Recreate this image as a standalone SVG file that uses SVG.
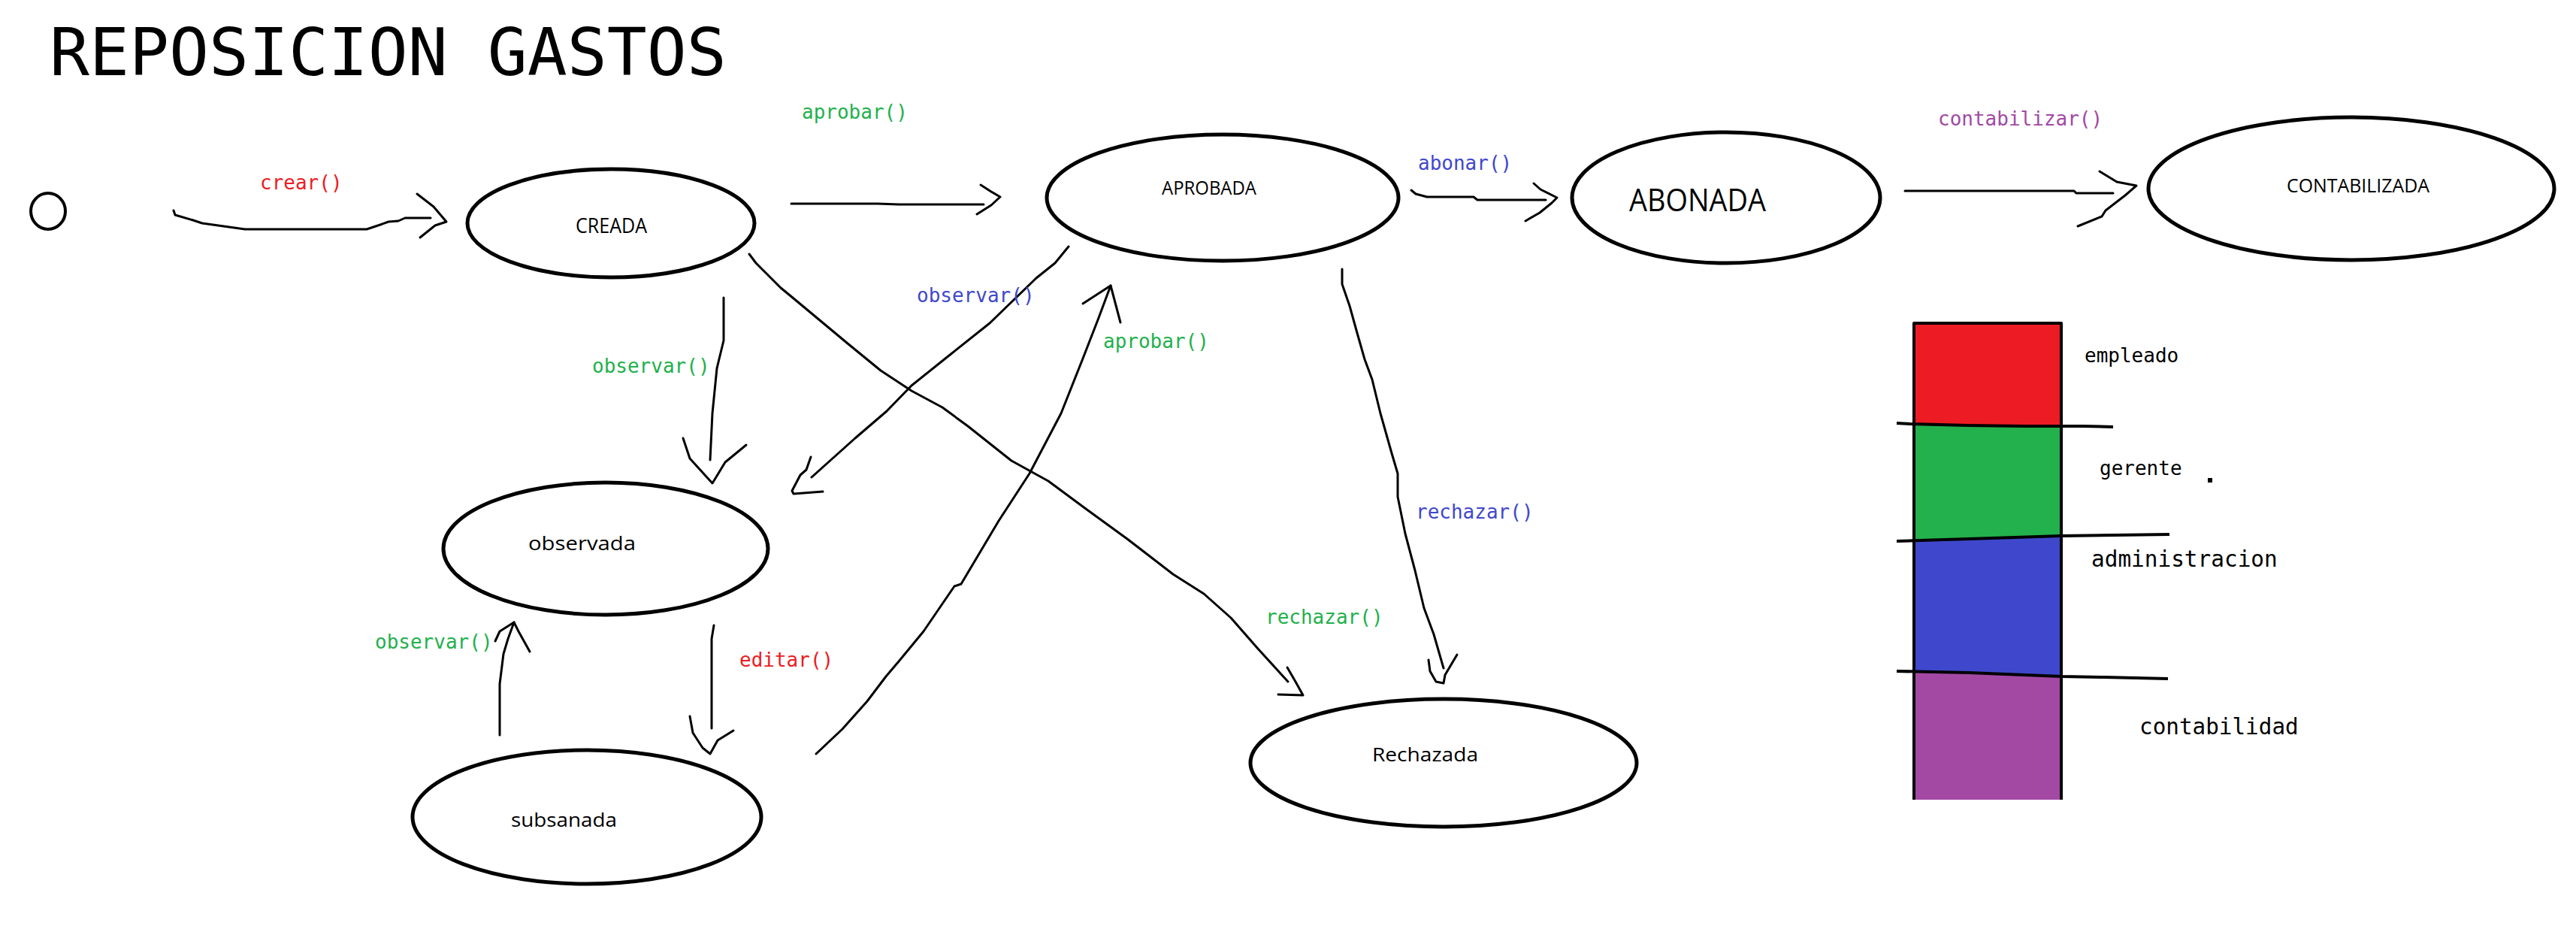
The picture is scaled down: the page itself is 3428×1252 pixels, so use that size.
<svg xmlns="http://www.w3.org/2000/svg" width="3428" height="1252" viewBox="0 0 3428 1252">
<style>
.node{fill:#fff;stroke:#000;stroke-width:5}
.nl{font-family:"Open Sans","Noto Sans","DejaVu Sans",sans-serif;fill:#000}
.edge{fill:none;stroke:#000;stroke-width:3;stroke-linejoin:round;stroke-linecap:round}
.lbl{font-family:"DejaVu Sans Mono","Liberation Mono",monospace;font-size:26px}
.red{fill:#ed1c24}.green{fill:#22b14c}.blue{fill:#3f48cc}.purple{fill:#a349a4}
.leg{font-family:"DejaVu Sans Mono","Liberation Mono",monospace;fill:#000}
.div{fill:none;stroke:#000;stroke-width:4;stroke-linejoin:round}
</style>
<rect width="3428" height="1252" fill="#fff"/>
<text x="66" y="100" font-family="DejaVu Sans Mono, Liberation Mono, monospace" font-size="88" fill="#000">REPOSICION GASTOS</text>

<g id="connectors">
  <g id="e-crear">
    <polyline class="edge" points="231,280 233,286 257,293 269,297 326,305 488,305 506,299 517,295 530,294 539,290 573,290"/>
    <polyline class="edge" points="555,258 577,275 594,295 579,300 559,316"/>
    <text class="lbl red" x="346" y="252">crear()</text>
  </g>
  <g id="e-aprobar1">
    <polyline class="edge" points="1053,271 1168,271 1196,272 1309,272"/>
    <polyline class="edge" points="1305,246 1319,255 1331,262 1319,273 1300,285"/>
    <text class="lbl green" x="1067" y="158">aprobar()</text>
  </g>
  <g id="e-abonar">
    <polyline class="edge" points="1878,253 1884,258 1899,262 1961,262 1966,266 2057,266"/>
    <polyline class="edge" points="2041,244 2050,252 2072,263 2065,270 2049,283 2030,294"/>
    <text class="lbl blue" x="1887" y="226">abonar()</text>
  </g>
  <g id="e-contabilizar">
    <polyline class="edge" points="2535,254 2760,254 2763,257 2812,257"/>
    <polyline class="edge" points="2794,228 2817,242 2843,247 2828,260 2802,280 2797,288 2765,301"/>
    <text class="lbl purple" x="2579" y="167">contabilizar()</text>
  </g>
  <g id="e-observar1">
    <polyline class="edge" points="963,396 963,453 954,490 948,550 945,612"/>
    <polyline class="edge" points="909,583 918,610 948,643 965,615 993,592"/>
    <text class="lbl green" x="788" y="496">observar()</text>
  </g>
  <g id="e-observar2">
    <polyline class="edge" points="1422,328 1404,350 1379,370 1317,430 1263,473 1213,513 1180,547 1138,583 1080,635"/>
    <polyline class="edge" points="1079,608 1073,625 1065,632 1054,653 1056,657 1095,654"/>
    <text class="lbl blue" x="1220" y="402">observar()</text>
  </g>
  <g id="e-rechazar1">
    <polyline class="edge" points="997,338 1006,350 1039,383 1056,397 1080,417 1128,457 1172,493 1213,520 1254,542 1288,567 1346,613 1395,640 1445,677 1500,717 1526,737 1561,764 1602,790 1638,822 1673,862 1714,907"/>
    <polyline class="edge" points="1713,888 1724,907 1734,925 1701,924"/>
    <text class="lbl green" x="1684" y="830">rechazar()</text>
  </g>
  <g id="e-rechazar2">
    <polyline class="edge" points="1786,358 1786,378 1796,407 1806,443 1816,478 1826,505 1837,550 1852,603 1860,630 1860,661 1870,710 1883,759 1895,809 1908,844 1921,889"/>
    <polyline class="edge" points="1901,878 1903,893 1911,907 1921,909 1923,898 1939,871"/>
    <text class="lbl blue" x="1884" y="690">rechazar()</text>
  </g>
  <g id="e-aprobar2">
    <polyline class="edge" points="1086,1003 1121,970 1154,933 1179,900 1196,880 1229,840 1270,780 1279,777 1329,693 1370,630 1412,550 1441,477 1462,423 1478,380"/>
    <polyline class="edge" points="1441,404 1478,380 1491,429"/>
    <text class="lbl green" x="1468" y="463">aprobar()</text>
  </g>
  <g id="e-editar">
    <polyline class="edge" points="950,832 947,850 947,969"/>
    <polyline class="edge" points="918,953 922,975 935,995 945,1003 955,985 976,972"/>
    <text class="lbl red" x="984" y="887">editar()</text>
  </g>
  <g id="e-observar3">
    <polyline class="edge" points="665,978 665,910 670,870 676,850 684,828"/>
    <polyline class="edge" points="659,853 665,840 684,828 690,840 705,867"/>
    <text class="lbl green" x="499" y="863">observar()</text>
  </g>
</g>

<g id="n-inicio">
  <ellipse cx="64" cy="281" rx="23" ry="24" fill="#fff" stroke="#000" stroke-width="4"/>
</g>
<g id="n-creada">
  <ellipse class="node" cx="813" cy="297" rx="191" ry="72"/>
  <text class="nl" x="766" y="310" font-size="27" textLength="95" lengthAdjust="spacingAndGlyphs">CREADA</text>
</g>
<g id="n-aprobada">
  <ellipse class="node" cx="1627" cy="263" rx="234" ry="84"/>
  <text class="nl" x="1546" y="259" font-size="26" textLength="126" lengthAdjust="spacingAndGlyphs">APROBADA</text>
</g>
<g id="n-abonada">
  <ellipse class="node" cx="2297" cy="263" rx="205" ry="87"/>
  <text class="nl" x="2168" y="281" font-size="42" textLength="182" lengthAdjust="spacingAndGlyphs">ABONADA</text>
</g>
<g id="n-contabilizada">
  <ellipse class="node" cx="3129" cy="251" rx="270" ry="95"/>
  <text class="nl" x="3043" y="256" font-size="25" textLength="190" lengthAdjust="spacingAndGlyphs">CONTABILIZADA</text>
</g>
<g id="n-observada">
  <ellipse class="node" cx="806" cy="730" rx="216" ry="88"/>
  <text class="nl" x="703" y="732" font-size="25" textLength="143" lengthAdjust="spacingAndGlyphs">observada</text>
</g>
<g id="n-subsanada">
  <ellipse class="node" cx="781" cy="1087" rx="232" ry="89"/>
  <text class="nl" x="680" y="1100" font-size="25" textLength="141" lengthAdjust="spacingAndGlyphs">subsanada</text>
</g>
<g id="n-rechazada">
  <ellipse class="node" cx="1921" cy="1015" rx="257" ry="85"/>
  <text class="nl" x="1826" y="1013" font-size="26" textLength="141" lengthAdjust="spacingAndGlyphs">Rechazada</text>
</g>

<g id="legend">
  <rect x="2547" y="430" width="196" height="136" fill="#ed1c24"/>
  <polygon points="2547,564 2743,567 2743,715 2547,720" fill="#22b14c"/>
  <polygon points="2547,719 2743,713 2743,900 2547,894" fill="#3f48cc"/>
  <polygon points="2547,894 2743,900 2743,1064 2547,1064" fill="#a349a4"/>
  <polyline class="div" points="2547,1064 2547,430 2743,430 2743,1064"/>
  <polyline class="div" points="2524,563 2542,564 2619,566 2695,567 2771,567 2812,568"/>
  <polyline class="div" points="2524,720 2620,717 2743,713 2887,711"/>
  <polyline class="div" points="2524,893 2620,895 2743,900 2800,901 2885,903"/>
  <rect x="2938" y="636" width="6" height="6" fill="#000"/>
  <text class="leg" x="2774" y="482" font-size="26">empleado</text>
  <text class="leg" x="2794" y="632" font-size="26">gerente</text>
  <text class="leg" x="2783" y="754" font-size="29.4">administracion</text>
  <text class="leg" x="2847" y="977" font-size="29.3">contabilidad</text>
</g>
</svg>
